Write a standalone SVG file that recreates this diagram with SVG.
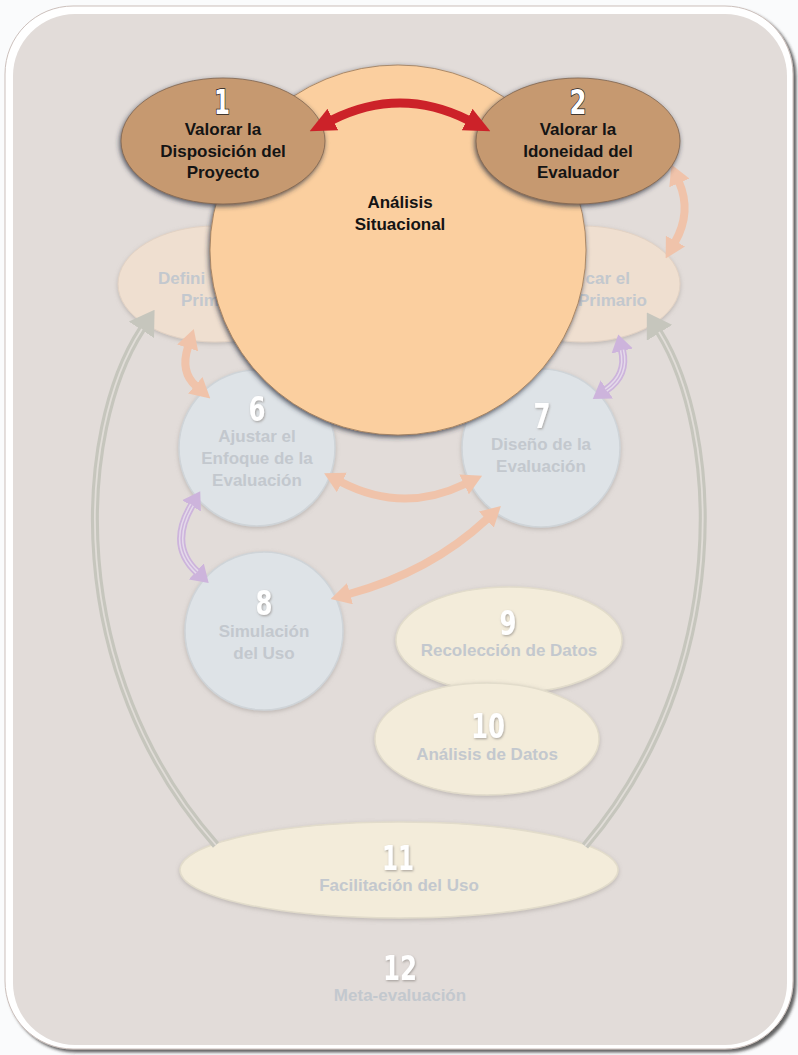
<svg xmlns="http://www.w3.org/2000/svg" width="798" height="1055" viewBox="0 0 798 1055">
<style>
.lbl{font-family:"Liberation Sans",Arial,sans-serif;font-weight:bold;font-size:17px;text-anchor:middle}
.dark{fill:#141414}
.faint{fill:#c3c8ce}
.num{font-family:"DejaVu Sans Condensed","Liberation Sans Narrow","DejaVu Sans",sans-serif;font-stretch:condensed;font-weight:bold;font-size:34px;text-anchor:middle;fill:#ffffff}
.numd{stroke:#1e1e1e;stroke-width:1.5;paint-order:stroke}
.numf{filter:url(#fn)}
.brown{fill:#c6996f;stroke:#7d6450;stroke-width:0.8;filter:url(#fs)}
.peachN{fill:#efdfd0;stroke:#e2d2c4;stroke-width:1;filter:url(#fl)}
.blueN{fill:#dee3e7;stroke:#cfd4d8;stroke-width:1.5;filter:url(#fl)}
.creamN{fill:#f3ecda;stroke:#e2dccb;stroke-width:1.5;filter:url(#fl)}
.peachA{fill:none;stroke:#f0c3aa;stroke-width:8}
.purA{fill:none;stroke:#cdb4dc;stroke-width:8}
.purB{fill:none;stroke:#e4d9ea;stroke-width:4.5}
.purC{fill:none;stroke:#cdb4dc;stroke-width:1.5}
.grayA{fill:none;stroke:#c6c6bd;stroke-width:8}
.grayB{fill:none;stroke:#e1ddd8;stroke-width:1.8}
</style>
<defs>
<filter id="fs" x="-20%" y="-20%" width="140%" height="140%"><feDropShadow dx="-1" dy="2" stdDeviation="2.5" flood-color="#2a2f3f" flood-opacity="0.8"/></filter>
<filter id="fl" x="-20%" y="-20%" width="140%" height="140%"><feDropShadow dx="0" dy="1.5" stdDeviation="2" flood-color="#8d8782" flood-opacity="0.45"/></filter>
<filter id="fn" x="-30%" y="-30%" width="160%" height="160%"><feDropShadow dx="0.8" dy="1.2" stdDeviation="0.8" flood-color="#8a8580" flood-opacity="0.7"/></filter>
<filter id="ff" x="-5%" y="-5%" width="110%" height="110%"><feDropShadow dx="3" dy="3" stdDeviation="1.5" flood-color="#333333" flood-opacity="0.75"/></filter>
<marker id="mRed" viewBox="0 0 26 24" markerWidth="26" markerHeight="24" refX="1" refY="12" orient="auto-start-reverse" markerUnits="userSpaceOnUse"><path d="M0,0 L26,12 L0,24 z" fill="#cc2229"/></marker>
<marker id="mPeach" viewBox="0 0 20 22" markerWidth="20" markerHeight="22" refX="1" refY="11" orient="auto-start-reverse" markerUnits="userSpaceOnUse"><path d="M0,0 L20,11 L0,22 z" fill="#f0c3aa"/></marker>
<marker id="mPur" viewBox="0 0 17 22" markerWidth="17" markerHeight="22" refX="1" refY="11" orient="auto-start-reverse" markerUnits="userSpaceOnUse"><path d="M0,0 L17,11 L0,22 z" fill="#cdb4dc"/></marker>
<marker id="mGray" viewBox="0 0 24 30" markerWidth="24" markerHeight="30" refX="1" refY="15" orient="auto-start-reverse" markerUnits="userSpaceOnUse"><path d="M0,0 L24,15 L0,30 z" fill="#c6c6bd"/></marker>
</defs>

<rect x="0" y="0" width="798" height="1055" fill="#fafbfc"/>
<g id="frame">
<rect x="5" y="6" width="788" height="1043" rx="68" fill="#ffffff" stroke="#cbbfbb" stroke-width="1" filter="url(#ff)"/>
<rect x="13" y="14" width="774" height="1031" rx="62" fill="#e2dcd9"/>
</g>

<g id="node3">
<ellipse class="peachN" cx="215" cy="284" rx="97" ry="58"/>
<text class="lbl faint" x="158" y="284" style="text-anchor:start">Defini</text>
<text class="lbl faint" x="181" y="306" style="text-anchor:start">Prim</text>
</g>
<g id="node5">
<ellipse class="peachN" cx="583" cy="284" rx="97" ry="58"/>
<text class="lbl faint" x="630" y="284" style="text-anchor:end">car el</text>
<text class="lbl faint" x="647" y="306" style="text-anchor:end">Primario</text>
</g>
<g id="node6">
<circle class="blueN" cx="257" cy="448" r="78"/>
<text class="num numf" x="257" y="421" textLength="17" lengthAdjust="spacingAndGlyphs">6</text>
<text class="lbl faint" x="257" y="442">Ajustar el</text>
<text class="lbl faint" x="257" y="464">Enfoque de la</text>
<text class="lbl faint" x="257" y="486">Evaluación</text>
</g>
<g id="node7">
<circle class="blueN" cx="541" cy="448" r="79"/>
<text class="num numf" x="542" y="428" textLength="17" lengthAdjust="spacingAndGlyphs">7</text>
<text class="lbl faint" x="541" y="450">Diseño de la</text>
<text class="lbl faint" x="541" y="472">Evaluación</text>
</g>
<g id="node8">
<circle class="blueN" cx="264" cy="631" r="79"/>
<text class="num numf" x="264" y="615" textLength="17" lengthAdjust="spacingAndGlyphs">8</text>
<text class="lbl faint" x="264" y="637">Simulación</text>
<text class="lbl faint" x="264" y="659">del Uso</text>
</g>
<g id="node9">
<ellipse class="creamN" cx="509" cy="640" rx="113" ry="53"/>
<text class="num numf" x="508" y="635" textLength="17" lengthAdjust="spacingAndGlyphs">9</text>
<text class="lbl faint" x="509" y="656">Recolección de Datos</text>
</g>
<g id="node10">
<ellipse class="creamN" cx="487" cy="739" rx="112" ry="56"/>
<text class="num numf" x="488" y="738" textLength="34" lengthAdjust="spacingAndGlyphs">10</text>
<text class="lbl faint" x="487" y="760">Análisis de Datos</text>
</g>
<g id="node11">
<ellipse class="creamN" cx="399" cy="870" rx="219" ry="48"/>
<text class="num numf" x="398" y="870" textLength="32" lengthAdjust="spacingAndGlyphs">11</text>
<text class="lbl faint" x="399" y="891">Facilitación del Uso</text>
</g>
<g id="node12">
<text class="num numf" x="400" y="980" textLength="34" lengthAdjust="spacingAndGlyphs">12</text>
<text class="lbl faint" x="400" y="1001">Meta-evaluación</text>
</g>

<g id="connectors">
<path class="grayA" d="M216 845 C62 670 76 430 142 329" marker-end="url(#mGray)"/>
<path class="grayB" d="M216 845 C62 670 76 430 142 329"/>
<path class="grayA" d="M585 846 C735 670 720 430 659 332" marker-end="url(#mGray)"/>
<path class="grayB" d="M585 846 C735 670 720 430 659 332"/>
<path class="peachA" d="M679 182 Q692 212 675 242" marker-start="url(#mPeach)" marker-end="url(#mPeach)"/>
<path class="peachA" d="M188 347 Q180 372 196 386" marker-start="url(#mPeach)" marker-end="url(#mPeach)"/>
<path class="peachA" d="M341 482 Q403 514 465 484" marker-start="url(#mPeach)" marker-end="url(#mPeach)"/>
<path class="peachA" d="M487 519 Q430 572 349 594" marker-start="url(#mPeach)" marker-end="url(#mPeach)"/>
<path class="purA" d="M622 350 Q628 375 606 390" marker-start="url(#mPur)" marker-end="url(#mPur)"/>
<path class="purB" d="M622 350 Q628 375 606 390"/>
<path class="purC" d="M622 350 Q628 375 606 390"/>
<path class="purA" d="M192 505 Q168 545 197 572" marker-start="url(#mPur)" marker-end="url(#mPur)"/>
<path class="purB" d="M192 505 Q168 545 197 572"/>
<path class="purC" d="M192 505 Q168 545 197 572"/>
</g>

<g id="node4">
<ellipse cx="398" cy="250" rx="188" ry="185" fill="#fbcf9f" stroke="#9a7a5a" stroke-width="0.8" filter="url(#fs)"/>
<text class="lbl dark" x="400" y="208">Análisis</text>
<text class="lbl dark" x="400" y="230">Situacional</text>
</g>
<g id="node1">
<ellipse class="brown" cx="223" cy="141" rx="102" ry="63"/>
<text class="num numd" x="222" y="114" textLength="16" lengthAdjust="spacingAndGlyphs">1</text>
<text class="lbl dark" x="223" y="135">Valorar la</text>
<text class="lbl dark" x="223" y="157">Disposición del</text>
<text class="lbl dark" x="223" y="178">Proyecto</text>
</g>
<g id="node2">
<ellipse class="brown" cx="578" cy="141" rx="102" ry="63"/>
<text class="num numd" x="578" y="114" textLength="17" lengthAdjust="spacingAndGlyphs">2</text>
<text class="lbl dark" x="578" y="135">Valorar la</text>
<text class="lbl dark" x="578" y="157">Idoneidad del</text>
<text class="lbl dark" x="578" y="178">Evaluador</text>
</g>

<g id="connectors-top">
<path d="M332 120 Q400 86 468 120" fill="none" stroke="#cc2229" stroke-width="9" marker-start="url(#mRed)" marker-end="url(#mRed)"/>
</g>
</svg>
